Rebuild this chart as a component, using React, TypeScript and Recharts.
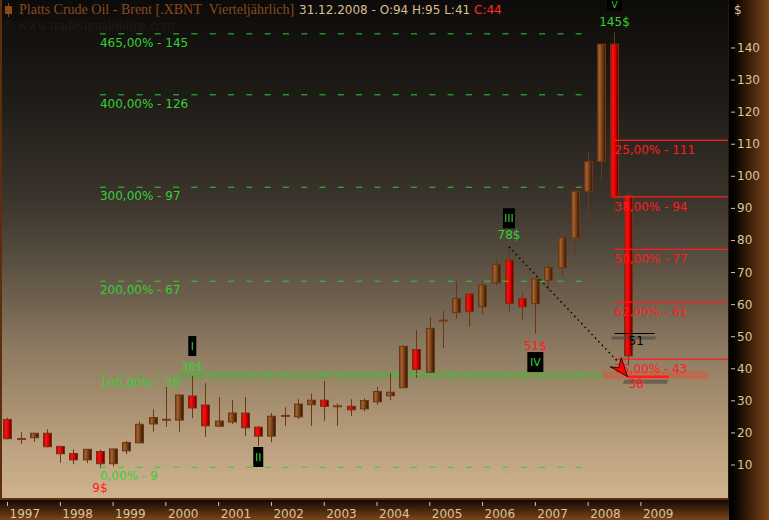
import React from 'react';
import {
  ComposedChart,
  Bar,
  XAxis,
  YAxis,
  ReferenceLine,
  ReferenceArea,
  ReferenceDot,
} from 'recharts';

// quarterly candles, Q1 1997 .. Q4 2008 (x = quarter index)
const OPEN = [
  24.2, 18.0, 18.5, 19.9, 15.8, 13.6, 11.6, 14.2, 10.4, 14.4, 16.9, 22.8,
  24.0, 24.0, 31.5, 28.7, 22.1, 23.4, 26.2, 21.8, 19.0, 25.2, 25.0, 28.8,
  30.2, 28.2, 28.3, 27.5, 29.7, 31.6, 34.1, 46.0, 38.9, 54.8, 57.5, 63.3,
  59.3, 66.8, 73.9, 61.9, 60.3, 67.6, 71.5, 80.8, 95.3, 104.6, 141.2, 94.0,
];
const HIGH = [
  24.8, 20.2, 19.9, 21.2, 15.8, 14.9, 14.9, 14.8, 15.0, 17.5, 23.6, 27.4,
  34.4, 32.0, 37.7, 35.5, 31.2, 30.2, 31.2, 22.1, 26.2, 28.0, 30.5, 32.3,
  36.2, 29.2, 30.5, 30.8, 34.3, 38.6, 47.3, 52.1, 56.1, 58.0, 67.3, 63.3,
  67.4, 74.5, 78.0, 63.8, 68.0, 72.6, 80.9, 95.8, 107.6, 141.2, 144.8, 95.0,
];
const LOW = [
  18.0, 16.6, 17.2, 15.5, 10.7, 10.3, 10.6, 9.0, 9.5, 13.4, 16.9, 20.4,
  21.9, 20.4, 24.6, 18.8, 21.8, 22.8, 19.0, 15.9, 17.1, 22.2, 24.3, 22.2,
  23.8, 22.2, 25.3, 26.7, 28.7, 30.2, 34.1, 37.2, 38.9, 46.5, 55.5, 53.1,
  57.0, 66.0, 57.8, 55.0, 50.9, 64.2, 68.9, 76.0, 86.3, 98.8, 88.4, 41.0,
];
const CLOSE = [
  18.2, 18.2, 19.9, 15.7, 13.5, 11.6, 14.9, 10.4, 15.0, 17.0, 22.7, 24.8,
  24.2, 31.8, 27.8, 22.2, 23.7, 26.2, 21.6, 19.0, 25.2, 25.4, 29.0, 30.2,
  28.3, 28.4, 27.2, 30.1, 32.9, 32.7, 47.0, 39.8, 52.6, 55.2, 61.9, 57.8,
  66.1, 72.5, 60.4, 59.3, 68.0, 71.6, 80.9, 95.3, 104.6, 141.2, 93.4, 44.0,
];

const YEARS = ['1997', '1998', '1999', '2000', '2001', '2002', '2003', '2004', '2005', '2006', '2007', '2008', '2009'];
const YEAR_TICKS = [0, 4, 8, 12, 16, 20, 24, 28, 32, 36, 40, 44, 48];
const PRICE_TICKS = [10, 20, 30, 40, 50, 60, 70, 80, 90, 100, 110, 120, 130, 140];

// green extension levels (left) and red retracement levels (right)
const EXT_LEVELS = [144.4, 125.4, 96.6, 67.3, 38.3, 9.3];
const EXT_LABELS = ['465,00% - 145', '400,00% - 126', '300,00% - 97', '200,00% - 67', '100,00% - 38', '0,00% - 9'];
const RET_LEVELS = [111.2, 93.6, 77.2, 60.8, 43.0];
const RET_LABELS = ['25,00% - 111', '38,00% - 94', '50,00% - 77', '62,00% - 61', '75,00% - 43'];

// wave counts: quarter index, box centre price, box size
const WAVE_NAMES = ['I', 'II', 'III', 'IV', 'V'];
const WAVE_X = [14, 19, 38, 40, 46];
const WAVE_Y = [47.1, 12.5, 86.9, 42.1, 153.6];
const WAVE_W = [8, 10, 12, 16, 15];
const WAVE_H = [20, 20, 20, 20, 12];

// price callouts
const CALL_TEXT = ['38$', '78$', '51$', '145$', '9$'];
const CALL_X = [14, 38, 40, 46, 7];
const CALL_Y = [39.3, 80.4, 45.8, 146.8, 1.6];
const CALL_RED = [false, false, true, false, true];

const data = OPEN.map((o, i) => ({
  i,
  o,
  h: HIGH[i],
  l: LOW[i],
  c: CLOSE[i],
  range: [LOW[i], HIGH[i]],
}));

const FONT = 'DejaVu Sans';
const AXIS_TEXT = '#dcc29a';
const GREEN = '#35d035';
const RED = '#ff1c1c';
const WICK = '#6e3612';

function Candle(props: any) {
  const { x, y, width, height, payload } = props;
  if (payload == null) return null;
  const { o, h, l, c } = payload;
  const top = Math.min(y, y + height);
  const ppu = Math.abs(height) / (h - l);
  const py = (v: number) => top + (h - v) * ppu;
  const cx = Math.round(x + width / 2) + 0.5;
  const bt = py(Math.max(o, c));
  const bb = py(Math.min(o, c));
  const up = c >= o;
  return (
    <g>
      <line x1={cx} x2={cx} y1={py(h)} y2={py(l)} stroke={WICK} strokeWidth={1} />
      {bb - bt < 2 ? (
        <rect x={cx - 4.5} y={(bt + bb) / 2 - 1} width={9} height={2} fill="#7a3a12" />
      ) : (
        <rect
          x={cx - 4}
          y={bt}
          width={8}
          height={bb - bt}
          fill={up ? 'url(#gUp)' : 'url(#gDown)'}
          stroke={WICK}
          strokeWidth={1}
        />
      )}
    </g>
  );
}

function YearTick(props: any) {
  const { x, y, payload } = props;
  const label = YEARS[YEAR_TICKS.indexOf(payload.value)];
  return (
    <g>
      <line x1={x} x2={x} y1={y + 2} y2={y + 6} stroke={AXIS_TEXT} />
      <text x={x + 2} y={y + 18} fill={AXIS_TEXT} fontSize={12} fontFamily={FONT}>
        {label}
      </text>
    </g>
  );
}

function PriceTick(props: any) {
  const { x, y, payload } = props;
  return (
    <g>
      <line x1={x + 3} x2={x + 7} y1={y} y2={y} stroke={AXIS_TEXT} />
      <text x={x + 9} y={y + 4} fill={AXIS_TEXT} fontSize={12} fontFamily={FONT}>
        {payload.value}
      </text>
    </g>
  );
}

const PLOT_BG =
  'linear-gradient(to bottom, #0d0b09 0%, #1f1c18 20%, #3b342c 40%, #52493d 50%, #6e604e 60%, #8d7a62 70%, #a48d6e 80%, #bca280 90%, #d0b38e 100%)';

export default function App() {
  return (
    <div style={{ position: 'absolute', left: 0, top: 0, width: 769, height: 520, background: '#000', overflow: 'hidden' }}>
      <div
        style={{
          position: 'absolute', left: 0, top: 0, width: 729, height: 500, boxSizing: 'border-box',
          background: PLOT_BG, borderLeft: '2px solid #5c2e0e', borderBottom: '2px solid #5c2e0e', borderRight: '1px solid #2a1606',
        }}
      />
      <div style={{ position: 'absolute', left: 0, top: 500, width: 769, height: 20, background: 'linear-gradient(to bottom, #120804, #7b4519)' }} />
      <div style={{ position: 'absolute', left: 729, top: 0, width: 40, height: 520, background: 'linear-gradient(to right, #000 8%, #3a1e08 50%, #7b4519 100%)' }} />

      <div style={{ position: 'absolute', left: 0, top: 0 }}>
        <ComposedChart width={769} height={520} data={data} margin={{ top: 0, right: 0, bottom: 0, left: 2 }}>
          <defs>
            <linearGradient id="gUp" x1="0" y1="0" x2="1" y2="0">
              <stop offset="0%" stopColor="#5a2a0a" />
              <stop offset="22%" stopColor="#a86430" />
              <stop offset="55%" stopColor="#7a4218" />
              <stop offset="100%" stopColor="#2e1405" />
            </linearGradient>
            <linearGradient id="gDown" x1="0" y1="0" x2="1" y2="0">
              <stop offset="0%" stopColor="#b00000" />
              <stop offset="30%" stopColor="#ff1010" />
              <stop offset="65%" stopColor="#d00000" />
              <stop offset="100%" stopColor="#4a0000" />
            </linearGradient>
          </defs>
          <XAxis
            dataKey="i"
            type="number"
            domain={[-0.42, 54.6]}
            allowDataOverflow
            ticks={YEAR_TICKS}
            interval={0}
            height={20}
            tickSize={0}
            tickMargin={0}
            axisLine={false}
            tickLine={false}
            tick={(p: any) => <YearTick {...p} />}
          />
          <YAxis
            orientation="right"
            type="number"
            domain={[-0.91, 154.96]}
            allowDataOverflow
            ticks={PRICE_TICKS}
            interval={0}
            width={41}
            tickSize={0}
            tickMargin={0}
            axisLine={false}
            tickLine={false}
            tick={(p: any) => <PriceTick {...p} />}
          />

          <ReferenceArea x1={13.07} x2={45.1} y1={36.8} y2={39.3} fill="#4caf3a" fillOpacity={0.4} stroke="none" />
          <ReferenceArea x1={45.1} x2={53.1} y1={36.8} y2={39.3} fill="#e05030" fillOpacity={0.45} stroke="none" />

          {EXT_LEVELS.map((v) => (
            <ReferenceLine
              key={'ext' + v}
              segment={[{ x: 7.0, y: v }, { x: 44.2, y: v }]}
              stroke="#33cc33"
              strokeWidth={1}
              strokeDasharray="6 12.3"
            />
          ))}

          <Bar dataKey="range" barSize={9} shape={(p: any) => <Candle {...p} />} isAnimationActive={false} />

          {RET_LEVELS.map((v) => (
            <ReferenceLine key={'ret' + v} segment={[{ x: 46.0, y: v }, { x: 54.6, y: v }]} stroke={RED} strokeWidth={1.2} />
          ))}

          <ReferenceLine
            segment={[{ x: 38.0, y: 78.0 }, { x: 46.35, y: 41.8 }]}
            stroke="#000"
            strokeWidth={1.5}
            strokeDasharray="1.5 3.5"
          />

          {EXT_LEVELS.map((v, k) => (
            <ReferenceDot
              key={'extl' + k}
              x={7.0}
              y={v}
              r={0}
              shape={(p: any) => (
                <text x={p.cx} y={p.cy + 13} fill={GREEN} fontSize={12} fontFamily={FONT}>
                  {EXT_LABELS[k]}
                </text>
              )}
            />
          ))}
          {RET_LEVELS.map((v, k) => (
            <ReferenceDot
              key={'retl' + k}
              x={46.0}
              y={v}
              r={0}
              shape={(p: any) => (
                <text x={p.cx} y={p.cy + 14} fill={RED} fontSize={12} fontFamily={FONT}>
                  {RET_LABELS[k]}
                </text>
              )}
            />
          ))}

          {WAVE_NAMES.map((n, k) => (
            <ReferenceDot
              key={'w' + n}
              x={WAVE_X[k]}
              y={WAVE_Y[k]}
              r={0}
              ifOverflow="visible"
              shape={(p: any) => (
                <g>
                  <rect
                    x={p.cx - WAVE_W[k] / 2}
                    y={p.cy - WAVE_H[k] / 2}
                    width={WAVE_W[k]}
                    height={WAVE_H[k]}
                    fill="#000"
                  />
                  <text
                    x={p.cx}
                    y={p.cy + (WAVE_H[k] < 20 ? 4 : 4)}
                    textAnchor="middle"
                    fill={GREEN}
                    fontSize={WAVE_H[k] < 20 ? 9 : 11}
                    fontFamily={FONT}
                  >
                    {n}
                  </text>
                </g>
              )}
            />
          ))}

          {CALL_TEXT.map((t, k) => (
            <ReferenceDot
              key={'c' + k}
              x={CALL_X[k]}
              y={CALL_Y[k]}
              r={0}
              shape={(p: any) => (
                <text x={p.cx} y={p.cy} textAnchor="middle" fill={CALL_RED[k] ? RED : GREEN} fontSize={12} fontFamily={FONT}>
                  {t}
                </text>
              )}
            />
          ))}

          <ReferenceDot
            x={46.0}
            y={51.0}
            r={0}
            shape={(p: any) => (
              <g>
                <polygon
                  points={`${p.cx - 2},${p.cy + 3} ${p.cx + 42},${p.cy + 3} ${p.cx + 40},${p.cy + 6} ${p.cx - 4},${p.cy + 6}`}
                  fill="#4a4540"
                  opacity={0.6}
                />
                <line x1={p.cx} x2={p.cx + 40} y1={p.cy} y2={p.cy} stroke="#000" strokeWidth={1.2} />
                <text x={p.cx + 14} y={p.cy + 12} fill="#000" fontSize={12} fontFamily={FONT}>
                  51
                </text>
              </g>
            )}
          />
          <ReferenceDot
            x={47.0}
            y={37.5}
            r={0}
            shape={(p: any) => (
              <g>
                <polygon
                  points={`${p.cx - 3},${p.cy + 3} ${p.cx + 41},${p.cy + 3} ${p.cx + 39},${p.cy + 7} ${p.cx - 5},${p.cy + 7}`}
                  fill="#4a4540"
                  opacity={0.6}
                />
                <line x1={p.cx} x2={p.cx + 41} y1={p.cy} y2={p.cy} stroke={RED} strokeWidth={2.5} />
                <text x={p.cx + 1} y={p.cy + 11} fill={RED} fontSize={12} fontFamily={FONT}>
                  38
                </text>
                <polygon
                  points={`${p.cx},${p.cy} ${p.cx - 17.5},${p.cy - 10} ${p.cx - 9},${p.cy - 9} ${p.cx - 6.5},${p.cy - 19}`}
                  fill="#ff0000"
                  stroke="#000"
                  strokeWidth={0.8}
                />
              </g>
            )}
          />
        </ComposedChart>
      </div>

      <svg width={769} height={40} style={{ position: 'absolute', left: 0, top: 0, pointerEvents: 'none' }}>
        <line x1={8.5} x2={8.5} y1={3} y2={17} stroke="#8b4a1a" />
        <rect x={5} y={6} width={7} height={8} fill="#8b4a1a" />
        <text x={19} y={14} fontFamily="Liberation Serif" fontSize={14} fill="#8a4a1e">
          {'Platts Crude Oil - Brent [.XBNT\u00a0\u00a0Vierteljährlich]'}
        </text>
        <text x={299} y={14} fontFamily={FONT} fontSize={12} fill="#d8bd92">
          {'31.12.2008 - O:94 H:95 L:41 '}
          <tspan fill="#ff2a2a">C:44</tspan>
        </text>
        <text x={3} y={30} fontFamily="Liberation Serif" fontSize={14} fill="#221b14">
          © www.tradesignalonline.com
        </text>
        <text x={734} y={14} fontFamily={FONT} fontSize={12} fill={AXIS_TEXT}>
          $
        </text>
      </svg>
    </div>
  );
}
